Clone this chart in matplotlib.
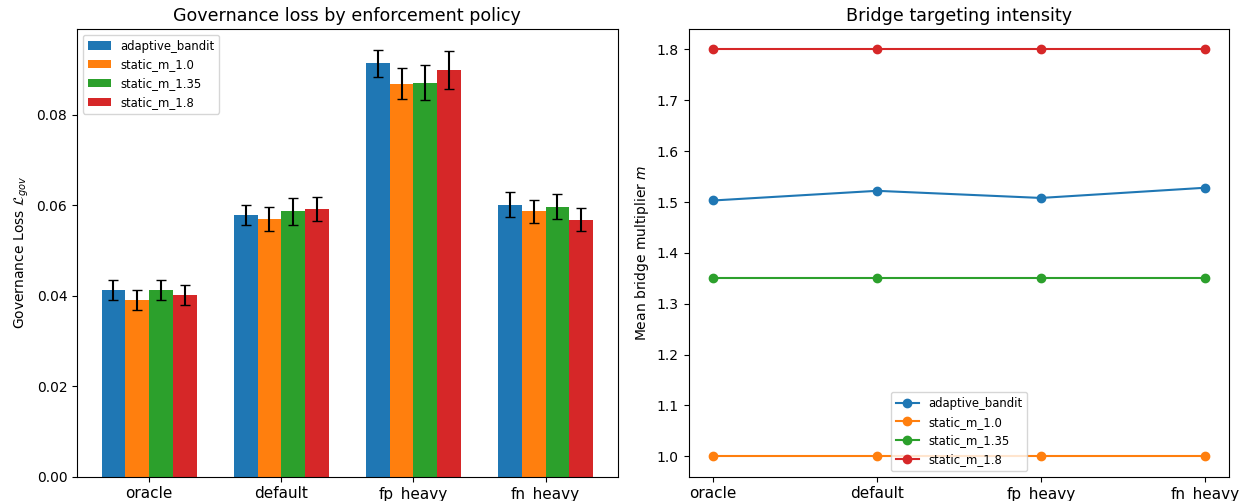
import matplotlib
matplotlib.use("Agg")
import matplotlib.pyplot as plt
import numpy as np

regimes = ['oracle', 'default', 'fp_heavy', 'fn_heavy']
policies = ['adaptive_bandit', 'static_m_1.0', 'static_m_1.35', 'static_m_1.8']
colors = ['#1f77b4', '#ff7f0e', '#2ca02c', '#d62728']

# governance loss per policy, one value per regime
loss_mean = {
    'adaptive_bandit': [0.0413, 0.0579, 0.0913, 0.0601],
    'static_m_1.0': [0.0391, 0.0570, 0.0868, 0.0586],
    'static_m_1.35': [0.0413, 0.0586, 0.0871, 0.0597],
    'static_m_1.8': [0.0402, 0.0592, 0.0899, 0.0568],
}
loss_err = {
    'adaptive_bandit': [0.0022, 0.0022, 0.0029, 0.0027],
    'static_m_1.0': [0.0022, 0.0027, 0.0034, 0.0025],
    'static_m_1.35': [0.0022, 0.0029, 0.0038, 0.0028],
    'static_m_1.8': [0.0022, 0.0027, 0.0042, 0.0025],
}

# mean bridge multiplier
bridge_m = {
    'adaptive_bandit': [1.503, 1.522, 1.508, 1.528],
    'static_m_1.0': [1.0, 1.0, 1.0, 1.0],
    'static_m_1.35': [1.35, 1.35, 1.35, 1.35],
    'static_m_1.8': [1.8, 1.8, 1.8, 1.8],
}

fig, (ax1, ax2) = plt.subplots(1, 2, figsize=(12.42, 5.01), dpi=100)
fig.subplots_adjust(left=0.062, right=0.9898, bottom=0.0485, top=0.942, wspace=0.131)

x = np.arange(len(regimes))
width = 0.18
for i, (p, c) in enumerate(zip(policies, colors)):
    ax1.bar(x + (i - 1.5) * width, loss_mean[p], width, yerr=loss_err[p],
            capsize=3.5, color=c, label=p, error_kw={'ecolor': 'black', 'elinewidth': 1.5})
ax1.set_xticks(x)
ax1.set_xticklabels(regimes, fontsize=11)
ax1.set_ylabel(r'Governance Loss $\mathcal{L}_{gov}$')
ax1.set_title('Governance loss by enforcement policy', fontsize=12.6)
ax1.legend(loc='upper left', fontsize=8.4)

for p, c in zip(policies, colors):
    ax2.plot(regimes, bridge_m[p], marker='o', color=c, label=p)
ax2.set_ylabel('Mean bridge multiplier $m$')
ax2.set_title('Bridge targeting intensity', fontsize=12.6)
ax2.tick_params(axis='x', labelsize=11)
ax2.legend(loc='lower center', fontsize=8.4)

fig.savefig('out.png', dpi=100)
